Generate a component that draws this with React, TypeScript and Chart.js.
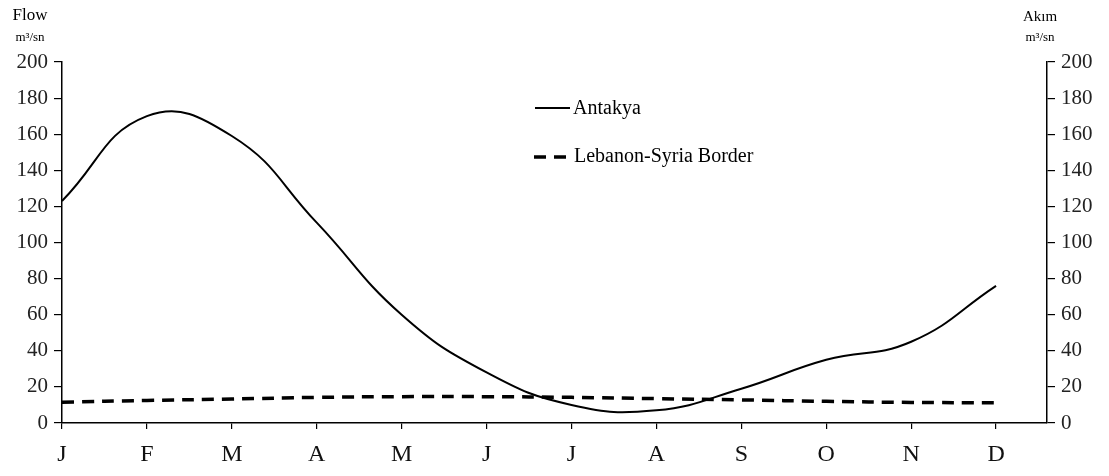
import React, { useEffect, useRef } from "react";
import { Chart, registerables } from "chart.js";

Chart.register(...registerables);

const months = ["J", "F", "M", "A", "M", "J", "J", "A", "S", "O", "N", "D"];
const antakya = [123, 170, 159, 111, 60, 28, 10, 7, 19, 35, 45, 76];
const lebanonSyria = [11.5, 12.5, 13.3, 14.2, 14.6, 14.6, 14.2, 13.5, 12.8, 12, 11.4, 11.2];
const yTicks = [0, 20, 40, 60, 80, 100, 120, 140, 160, 180, 200];

const FONT = "'Liberation Serif', 'Times New Roman', serif";

const legendPlugin = {
  id: "customLegend",
  afterDraw(chart: any) {
    const ctx = chart.ctx;
    ctx.save();
    ctx.strokeStyle = "#000";
    ctx.fillStyle = "#000";
    ctx.font = `20px ${FONT}`;
    ctx.textBaseline = "middle";
    // solid
    ctx.lineWidth = 2;
    ctx.setLineDash([]);
    ctx.beginPath();
    ctx.moveTo(535, 108);
    ctx.lineTo(570, 108);
    ctx.stroke();
    ctx.fillText("Antakya", 573, 109);
    // dashed
    ctx.lineWidth = 3.5;
    ctx.setLineDash([12, 8]);
    ctx.beginPath();
    ctx.moveTo(534, 157);
    ctx.lineTo(570, 157);
    ctx.stroke();
    ctx.setLineDash([]);
    ctx.fillText("Lebanon-Syria Border", 574, 157);
    // axis titles
    ctx.textAlign = "center";
    ctx.font = `17px ${FONT}`;
    ctx.fillText("Flow", 30, 16);
    ctx.font = `13px ${FONT}`;
    ctx.fillText("m\u00b3/sn", 30, 38);
    ctx.font = `15px ${FONT}`;
    ctx.fillText("Ak\u0131m", 1040, 17);
    ctx.font = `13px ${FONT}`;
    ctx.fillText("m\u00b3/sn", 1040, 38);
    ctx.restore();
  },
};

export default function App() {
  const ref = useRef<HTMLCanvasElement | null>(null);
  useEffect(() => {
    if (!ref.current) return;
    const toXY = (arr: number[]) => arr.map((v, i) => ({ x: i, y: v }));
    const yAxisCommon = (pos: "left" | "right") => ({
      type: "linear" as const,
      position: pos,
      min: 0,
      max: 200,
      afterBuildTicks: (axis: any) => {
        axis.ticks = yTicks.map((v) => ({ value: v }));
      },
      afterFit: (axis: any) => {
        axis.width = 62;
      },
      grid: { display: true, drawOnChartArea: false, drawTicks: true, tickLength: 8, color: "#000", lineWidth: 1.2 },
      border: { display: true, color: "#000", width: 1.5 },
      ticks: { color: "#222", font: { family: FONT, size: 21 }, padding: 6 },
    });
    const chart = new Chart(ref.current, {
      type: "line",
      data: {
        datasets: [
          {
            label: "Antakya",
            data: toXY(antakya),
            borderColor: "#000",
            borderWidth: 2,
            pointRadius: 0,
            tension: 0.45,
            fill: false,
            yAxisID: "y",
          },
          {
            label: "Lebanon-Syria Border",
            data: toXY(lebanonSyria),
            borderColor: "#000",
            borderWidth: 3.5,
            borderDash: [12, 8],
            pointRadius: 0,
            tension: 0.4,
            fill: false,
            yAxisID: "y",
          },
        ],
      },
      options: {
        animation: false,
        responsive: false,
        maintainAspectRatio: false,
        layout: { padding: { top: 62, left: 0, right: 0, bottom: 0 } },
        plugins: { legend: { display: false }, tooltip: { enabled: false } },
        scales: {
          x: {
            type: "linear",
            min: 0,
            max: 11.6,
            afterBuildTicks: (axis: any) => {
              axis.ticks = months.map((_, i) => ({ value: i }));
            },
            afterFit: (axis: any) => {
              axis.height = 53;
            },
            grid: { display: true, drawOnChartArea: false, drawTicks: true, tickLength: 6, color: "#000", lineWidth: 1.2 },
            border: { display: true, color: "#000", width: 1.5 },
            ticks: {
              color: "#111",
              font: { family: FONT, size: 24 },
              padding: 11,
              maxRotation: 0,
              autoSkip: false,
              callback: (v: any) => months[Math.round(Number(v))] ?? "",
            },
          },
          y: yAxisCommon("left"),
          y2: yAxisCommon("right"),
        },
      },
      plugins: [legendPlugin],
    });
    return () => chart.destroy();
  }, []);
  return (
    <div style={{ position: "fixed", left: 0, top: 0, width: 1109, height: 476, background: "#fff" }}>
      <canvas ref={ref} width={1109} height={476} style={{ width: 1109, height: 476 }} />
    </div>
  );
}
